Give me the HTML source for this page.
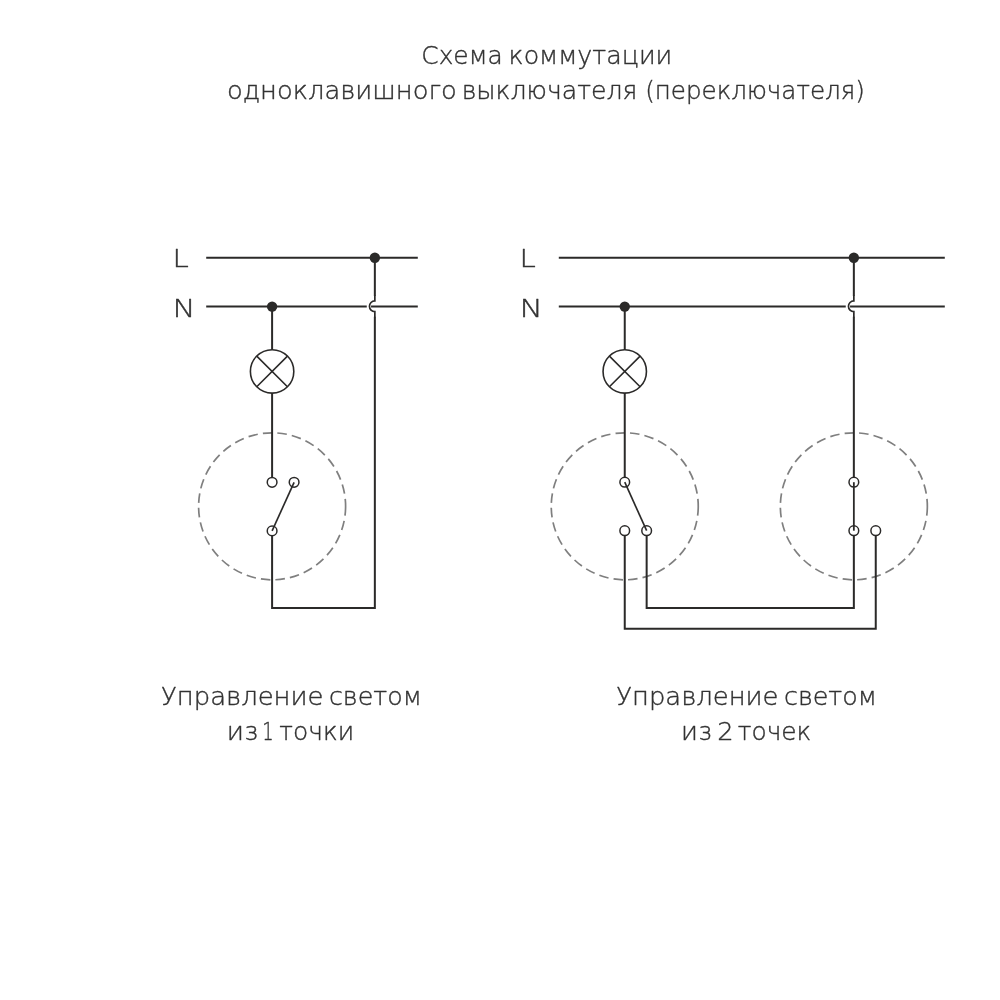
<!DOCTYPE html>
<html lang="ru">
<head>
<meta charset="utf-8">
<title>Схема коммутации одноклавишного выключателя (переключателя)</title>
<style>
html,body{margin:0;padding:0;background:#fff}
body{width:1000px;height:1000px;overflow:hidden}
svg{display:block;will-change:transform}
svg text{font-family:"DejaVu Sans Light","DejaVu Sans","Liberation Sans",sans-serif;font-weight:200;fill:#323232;stroke:#323232;stroke-width:0.38px;stroke-linejoin:round}
</style>
</head>
<body>
<svg width="1000" height="1000" viewBox="0 0 1000 1000">
<rect width="1000" height="1000" fill="#fff"/>
<g>
<circle cx="272.1" cy="506.3" r="73.5" fill="none" stroke="#7f7f7f" stroke-width="1.7" stroke-dasharray="9.5 5.13"/>
<path d="M206.2,257.8H417.8" fill="none" stroke="#2b2a29" stroke-width="2.0" stroke-linejoin="miter"/>
<path d="M206.2,306.6H366.75M371.05,306.6H417.8" fill="none" stroke="#2b2a29" stroke-width="2.0" stroke-linejoin="miter"/>
<path d="M374.85,257.8V295.90000000000003M374.85,316.7V607.95H272.1V531" fill="none" stroke="#2b2a29" stroke-width="2.0" stroke-linejoin="miter"/>
<path d="M374.85,295.40000000000003V300.90000000000003A5.4,5.4 0 0 0 374.85,311.7V317.2" fill="none" stroke="#2b2a29" stroke-width="1.7" stroke-linejoin="miter"/>
<path d="M272.1,306.6V482.3" fill="none" stroke="#2b2a29" stroke-width="2.0" stroke-linejoin="miter"/>
<circle cx="272.1" cy="371.4" r="21.7" fill="#fff" stroke="#2b2a29" stroke-width="1.6"/><path d="M256.76,356.06L287.44,386.74M287.44,356.06L256.76,386.74" stroke="#2b2a29" stroke-width="1.6" fill="none"/>
<circle cx="374.85" cy="257.8" r="5.2" fill="#2b2a29"/>
<circle cx="272.1" cy="306.6" r="5.2" fill="#2b2a29"/>
<circle cx="272.1" cy="482.3" r="4.85" fill="#fff" stroke="#2b2a29" stroke-width="1.5"/>
<circle cx="294.1" cy="482.3" r="4.85" fill="#fff" stroke="#2b2a29" stroke-width="1.5"/>
<circle cx="272.1" cy="530.9" r="4.85" fill="#fff" stroke="#2b2a29" stroke-width="1.5"/>
<path d="M272.1,530.9L294.1,482.3" fill="none" stroke="#2b2a29" stroke-width="1.65" stroke-linejoin="miter"/>
<circle cx="624.75" cy="506.3" r="73.5" fill="none" stroke="#7f7f7f" stroke-width="1.7" stroke-dasharray="9.5 5.13"/>
<circle cx="853.85" cy="506.3" r="73.5" fill="none" stroke="#7f7f7f" stroke-width="1.7" stroke-dasharray="9.5 5.13"/>
<path d="M558.8,257.8H944.8" fill="none" stroke="#2b2a29" stroke-width="2.0" stroke-linejoin="miter"/>
<path d="M558.8,306.6H845.75M850.0500000000001,306.6H944.8" fill="none" stroke="#2b2a29" stroke-width="2.0" stroke-linejoin="miter"/>
<path d="M853.85,257.8V295.90000000000003M853.85,316.7V482.2" fill="none" stroke="#2b2a29" stroke-width="2.0" stroke-linejoin="miter"/>
<path d="M853.85,295.40000000000003V300.90000000000003A5.4,5.4 0 0 0 853.85,311.7V317.2" fill="none" stroke="#2b2a29" stroke-width="1.7" stroke-linejoin="miter"/>
<path d="M624.75,306.6V482.2" fill="none" stroke="#2b2a29" stroke-width="2.0" stroke-linejoin="miter"/>
<circle cx="624.75" cy="371.4" r="21.7" fill="#fff" stroke="#2b2a29" stroke-width="1.6"/><path d="M609.41,356.06L640.09,386.74M640.09,356.06L609.41,386.74" stroke="#2b2a29" stroke-width="1.6" fill="none"/>
<circle cx="853.85" cy="257.8" r="5.2" fill="#2b2a29"/>
<circle cx="624.75" cy="306.6" r="5.2" fill="#2b2a29"/>
<path d="M624.75,530.7V628.8H875.75V530.7" fill="none" stroke="#2b2a29" stroke-width="2.0" stroke-linejoin="miter"/>
<path d="M646.65,530.7V608H853.85V530.7" fill="none" stroke="#2b2a29" stroke-width="2.0" stroke-linejoin="miter"/>
<circle cx="624.75" cy="482.2" r="4.85" fill="#fff" stroke="#2b2a29" stroke-width="1.5"/>
<circle cx="624.75" cy="530.7" r="4.85" fill="#fff" stroke="#2b2a29" stroke-width="1.5"/>
<circle cx="646.65" cy="530.7" r="4.85" fill="#fff" stroke="#2b2a29" stroke-width="1.5"/>
<circle cx="853.85" cy="482.2" r="4.85" fill="#fff" stroke="#2b2a29" stroke-width="1.5"/>
<circle cx="853.85" cy="530.7" r="4.85" fill="#fff" stroke="#2b2a29" stroke-width="1.5"/>
<circle cx="875.75" cy="530.7" r="4.85" fill="#fff" stroke="#2b2a29" stroke-width="1.5"/>
<path d="M624.75,482.2L646.65,530.7" fill="none" stroke="#2b2a29" stroke-width="1.65" stroke-linejoin="miter"/>
<path d="M853.85,482.2V530.7" fill="none" stroke="#2b2a29" stroke-width="1.8" stroke-linejoin="miter"/>
</g>
<g>
<text x="421.33" y="64.35" textLength="81.30" lengthAdjust="spacingAndGlyphs" font-size="24.4">Схема</text>
<text x="508.62" y="64.35" textLength="163.66" lengthAdjust="spacingAndGlyphs" font-size="24.4">коммутации</text>
<text x="226.90" y="99.4" textLength="229.96" lengthAdjust="spacingAndGlyphs" font-size="24.4">одноклавишного</text>
<text x="461.65" y="99.4" textLength="175.80" lengthAdjust="spacingAndGlyphs" font-size="24.4">выключателя</text>
<text x="645.20" y="99.4" textLength="219.64" lengthAdjust="spacingAndGlyphs" font-size="24.4">(переключателя)</text>
<text x="172.42" y="267.2" textLength="16.31" lengthAdjust="spacingAndGlyphs" font-size="24.9">L</text>
<text x="172.46" y="316.8" textLength="23.04" lengthAdjust="spacingAndGlyphs" font-size="24.9">N</text>
<text x="519.42" y="267.2" textLength="16.31" lengthAdjust="spacingAndGlyphs" font-size="24.9">L</text>
<text x="519.41" y="316.8" textLength="23.36" lengthAdjust="spacingAndGlyphs" font-size="24.9">N</text>
<text x="161.05" y="705.15" textLength="162.42" lengthAdjust="spacingAndGlyphs" font-size="24.4">Управление</text>
<text x="328.96" y="705.15" textLength="92.83" lengthAdjust="spacingAndGlyphs" font-size="24.4">светом</text>
<text x="226.73" y="740.3" textLength="31.36" lengthAdjust="spacingAndGlyphs" font-size="24.4">из</text>
<text x="262.13" y="740.3" textLength="11.37" lengthAdjust="spacingAndGlyphs" font-size="24.4">1</text>
<text x="279.34" y="740.3" textLength="74.79" lengthAdjust="spacingAndGlyphs" font-size="24.4">точки</text>
<text x="616.30" y="705.15" textLength="162.16" lengthAdjust="spacingAndGlyphs" font-size="24.4">Управление</text>
<text x="783.95" y="705.15" textLength="93.04" lengthAdjust="spacingAndGlyphs" font-size="24.4">светом</text>
<text x="680.98" y="740.3" textLength="30.83" lengthAdjust="spacingAndGlyphs" font-size="24.4">из</text>
<text x="717.31" y="740.3" textLength="16.38" lengthAdjust="spacingAndGlyphs" font-size="24.4">2</text>
<text x="737.84" y="740.3" textLength="73.55" lengthAdjust="spacingAndGlyphs" font-size="24.4">точек</text>
</g>
</svg>
</body>
</html>
